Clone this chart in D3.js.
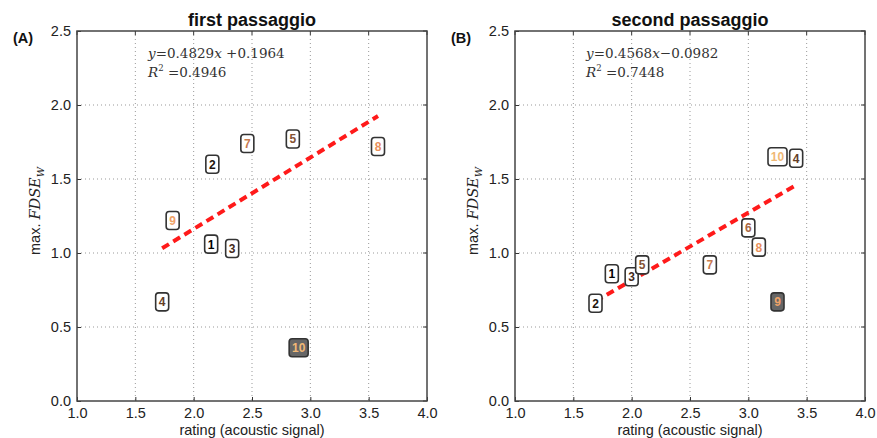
<!DOCTYPE html>
<html>
<head>
<meta charset="utf-8">
<script src="https://cdn.jsdelivr.net/npm/d3@7"></script>
<style>
  body { margin: 0; background: #fff; }
  svg { display: block; }
</style>
</head>
<body>
<div id="chart"></div>
<script>
// participant ids
const ids = [1, 2, 3, 4, 5, 6, 7, 8, 9, 10];

// first passaggio (participant 6 not shown)
const ratingA = [2.15, 2.16, 2.33, 1.73, 2.85, null, 2.46, 3.58, 1.82, 2.90];
const fdseA   = [1.06, 1.60, 1.03, 0.67, 1.77, null, 1.74, 1.72, 1.22, 0.36];
const outlierA = 10;
const fitA = { slope: 0.4829, icpt: 0.1964, r2: "0.4946", eq: "0.4829x +0.1964" };

// second passaggio
const ratingB = [1.83, 1.69, 2.00, 3.41, 2.09, 3.00, 2.67, 3.09, 3.25, 3.25];
const fdseB   = [0.86, 0.66, 0.84, 1.64, 0.92, 1.17, 0.92, 1.04, 0.67, 1.65];
const outlierB = 9;
const fitB = { slope: 0.4568, icpt: -0.0982, r2: "0.7448", eq: "0.4568x\u22120.0982" };

const xTicks = [1.0, 1.5, 2.0, 2.5, 3.0, 3.5, 4.0];
const yTicks = [0.0, 0.5, 1.0, 1.5, 2.0, 2.5];

const W = 877, H = 438;
const svg = d3.select("#chart").append("svg")
  .attr("width", W).attr("height", H)
  .style("font-family", "'Liberation Sans', Arial, sans-serif");

const serif = "'DejaVu Serif', 'Liberation Serif', serif";

// copper colormap for participant labels (slightly muted)
function labelColor(id) {
  const t = (id - 1) / 9;
  return d3.rgb(Math.min(1, 1.25 * t) * 240, 0.7812 * t * 235, 0.4975 * t * 235);
}

function panel(left, opts) {
  const top = 31, bottom = 401, right = left + 350;
  const x = d3.scaleLinear().domain([1, 4]).range([left, right]);
  const y = d3.scaleLinear().domain([0, 2.5]).range([bottom, top]);
  const g = svg.append("g");

  // grid
  g.append("g").selectAll("line").data(xTicks.slice(1, -1)).join("line")
    .attr("x1", d => x(d)).attr("x2", d => x(d))
    .attr("y1", top).attr("y2", bottom)
    .attr("stroke", "#999").attr("stroke-width", 1).attr("stroke-dasharray", "1,3");
  g.append("g").selectAll("line").data(yTicks.slice(1, -1)).join("line")
    .attr("y1", d => y(d)).attr("y2", d => y(d))
    .attr("x1", left).attr("x2", right)
    .attr("stroke", "#999").attr("stroke-width", 1).attr("stroke-dasharray", "1,3");

  // axes (ticks inward, matplotlib classic)
  const ax = g.append("g").attr("transform", `translate(0,${bottom})`)
    .call(d3.axisBottom(x).tickValues(xTicks).tickFormat(d3.format(".1f")).tickSize(-4).tickPadding(7));
  const ay = g.append("g").attr("transform", `translate(${left},0)`)
    .call(d3.axisLeft(y).tickValues(yTicks).tickFormat(d3.format(".1f")).tickSize(-4).tickPadding(6));
  [ax, ay].forEach(a => {
    a.select(".domain").remove();
    a.selectAll("line").attr("stroke", "#333");
    a.selectAll("text").attr("font-size", 14.5).attr("fill", "#222")
      .attr("font-family", "'Liberation Sans', Arial, sans-serif");
  });
  // top ticks / right ticks
  g.append("g").selectAll("line").data(xTicks).join("line")
    .attr("x1", d => x(d)).attr("x2", d => x(d)).attr("y1", top).attr("y2", top + 4)
    .attr("stroke", "#333");
  g.append("g").selectAll("line").data(yTicks).join("line")
    .attr("y1", d => y(d)).attr("y2", d => y(d)).attr("x1", right).attr("x2", right - 4)
    .attr("stroke", "#333");

  g.append("rect").attr("x", left).attr("y", top)
    .attr("width", right - left).attr("height", bottom - top)
    .attr("fill", "none").attr("stroke", "#444").attr("stroke-width", 1.5);

  // regression line over the data range
  const xs = opts.rating.filter(v => v != null);
  const x0 = d3.min(xs), x1 = d3.max(xs);
  g.append("line")
    .attr("x1", x(x0)).attr("y1", y(opts.fit.slope * x0 + opts.fit.icpt))
    .attr("x2", x(x1)).attr("y2", y(opts.fit.slope * x1 + opts.fit.icpt))
    .attr("stroke", "#ff1a1a").attr("stroke-width", 4).attr("stroke-dasharray", "8,5");

  // labelled points
  const pts = ids.map((id, i) => ({ id, r: opts.rating[i], v: opts.fdse[i] }))
    .filter(d => d.r != null);
  const pg = g.append("g").selectAll("g").data(pts).join("g")
    .attr("transform", d => `translate(${x(d.r)},${y(d.v)})`);
  pg.append("rect")
    .attr("x", d => d.id >= 10 ? -9.5 : -6.5).attr("y", -9)
    .attr("width", d => d.id >= 10 ? 19 : 13).attr("height", 18)
    .attr("rx", 3)
    .attr("fill", d => d.id === opts.outlier ? "#666" : "#fff")
    .attr("stroke", "#333").attr("stroke-width", 1.6);
  pg.append("text")
    .attr("text-anchor", "middle").attr("dy", "0.37em")
    .attr("font-size", 12).attr("font-weight", 600)
    .attr("fill", d => labelColor(d.id))
    .text(d => d.id);

  // equation text
  const parts = opts.fit.eq.split("x");
  const eq = g.append("text").attr("x", left + 71).attr("y", 58)
    .attr("font-family", serif).attr("font-size", 13.5).attr("fill", "#333");
  eq.append("tspan").attr("font-style", "italic").text("y");
  eq.append("tspan").text("=" + parts[0]);
  eq.append("tspan").attr("font-style", "italic").text("x");
  eq.append("tspan").text(parts[1]);

  const r2 = g.append("text").attr("x", left + 71).attr("y", 77)
    .attr("font-family", serif).attr("font-size", 13.5).attr("fill", "#333");
  r2.append("tspan").attr("font-style", "italic").text("R");
  r2.append("tspan").attr("font-size", 8.5).attr("dy", -6).text("2");
  r2.append("tspan").attr("dy", 6).text(" =" + opts.fit.r2);

  // title and panel letter
  g.append("text").attr("x", (left + right) / 2).attr("y", 26)
    .attr("text-anchor", "middle").attr("font-weight", "bold").attr("font-size", 18)
    .attr("fill", "#111").text(opts.title);
  g.append("text").attr("x", left - 64).attr("y", 43)
    .attr("font-weight", "bold").attr("font-size", 14.5).attr("fill", "#111").text(opts.letter);

  // axis labels
  g.append("text").attr("x", (left + right) / 2).attr("y", 435)
    .attr("text-anchor", "middle").attr("font-size", 14.5).attr("fill", "#222")
    .text("rating (acoustic signal)");
  const yl = g.append("text")
    .attr("transform", `translate(${left - 37},211) rotate(-90)`)
    .attr("text-anchor", "middle").attr("font-size", 14.5).attr("fill", "#222");
  yl.append("tspan").text("max. ");
  yl.append("tspan").attr("font-family", serif)
    .attr("font-style", "italic").text("FDSE");
  yl.append("tspan").attr("font-family", serif)
    .attr("font-style", "italic").attr("font-size", 10).attr("dy", 4).text("W");
}

panel(77, { rating: ratingA, fdse: fdseA, outlier: outlierA, fit: fitA,
  title: "first passaggio", letter: "(A)" });
panel(515, { rating: ratingB, fdse: fdseB, outlier: outlierB, fit: fitB,
  title: "second passaggio", letter: "(B)" });
</script>
</body>
</html>
